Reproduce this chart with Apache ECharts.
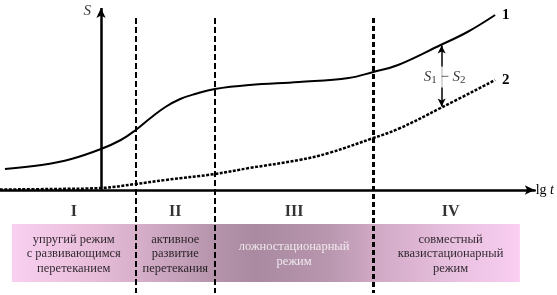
<!DOCTYPE html>
<html>
<head>
<meta charset="utf-8">
<script src="https://cdn.jsdelivr.net/npm/echarts@6/dist/echarts.min.js"></script>
<style>html,body{margin:0;padding:0;background:#fff;}#c{width:557px;height:295px;}</style>
</head>
<body>
<div id="c"></div>
<script>
// curve 1 (solid) : lg t -> S
const lgT1 = [-0.97, -0.6, -0.3, 0, 0.2, 0.35, 0.5, 0.65, 0.8, 0.95, 1.15, 1.5, 2.0, 2.5, 2.75, 3.0, 3.43, 3.7, 3.98];
const S1   = [2.1, 2.5, 3.1, 4.1, 5.0, 6.0, 7.2, 8.3, 9.1, 9.6, 10.1, 10.5, 10.8, 11.2, 11.8, 12.5, 14.5, 15.8, 17.5];
// curve 2 (dotted)
const lgT2 = [-1.02, -0.5, 0, 0.35, 0.65, 1.15, 1.5, 2.0, 2.3, 2.75, 3.0, 3.43, 3.98];
const S2   = [0.05, 0.1, 0.2, 0.6, 1.0, 1.6, 2.2, 3.0, 3.7, 5.2, 6.1, 8.2, 11.0];
// stage boundaries (lg t)
const stageBounds = [0.35, 1.15, 2.75];
const stageNumerals = ['I', 'II', 'III', 'IV'];
const stageNames = [
  'упругий режим\nс развивающимся\nперетеканием',
  'активное\nразвитие\nперетекания',
  'ложностационарный\nрежим',
  'совместный\nквазистационарный\nрежим'
];
const curveNames = ['1', '2'];
// position of S1 - S2 marker
const diffAt = 3.44;

const X_MIN = -1.02, X_MAX = 4.38, Y_MIN = -10.3, Y_MAX = 18.2;
const BAND_L = -0.90, BAND_R = 4.23, BAND_T = -3.4, BAND_B = -9.2;
const LABEL_R = 4.31;

const chart = echarts.init(document.getElementById('c'), null, {renderer: 'canvas'});
const serif = '"Liberation Serif", "Times New Roman", serif';

function interp(xs, ys, x) {
  for (let i = 0; i < xs.length - 1; i++) {
    if (x >= xs[i] && x <= xs[i + 1]) {
      const t = (x - xs[i]) / (xs[i + 1] - xs[i]);
      return ys[i] + t * (ys[i + 1] - ys[i]);
    }
  }
  return ys[ys.length - 1];
}

const edges = [BAND_L, ...stageBounds, LABEL_R];
const labelData = [];
stageNumerals.forEach((n, i) => {
  const cx = (edges[i] + edges[i + 1]) / 2;
  labelData.push({
    value: [cx, -2.2],
    label: {formatter: n, fontFamily: serif, fontWeight: 'bold', fontSize: 16, color: '#000'}
  });
  labelData.push({
    value: [cx, -6.4],
    label: {formatter: stageNames[i], fontFamily: serif, fontSize: 12.5, lineHeight: 14.5,
            color: i === 2 ? '#fff' : '#000', align: 'center'}
  });
});
labelData.push({
  value: [-0.14, 17.9],
  label: {formatter: 'S', fontFamily: serif, fontStyle: 'italic', fontSize: 15, color: '#000'}
});
const diffTop = interp(lgT1, S1, diffAt) - 0.1;
const diffBot = interp(lgT2, S2, diffAt) + 0.1;
labelData.push({
  value: [diffAt + 0.03, (diffTop + diffBot) / 2 - 0.1],
  label: {
    formatter: '{i|S}{s|1}{m| − }{i|S}{s|2}',
    backgroundColor: '#fff', padding: [2, 1, 2, 1],
    rich: {
      i: {fontFamily: serif, fontStyle: 'italic', fontSize: 15, color: '#000'},
      s: {fontFamily: serif, fontSize: 11, color: '#000', padding: [6, 0, 0, 0]},
      m: {fontFamily: serif, fontSize: 15, color: '#000'}
    }
  }
});

const dashedLines = stageBounds.map((x, i) => [
  {coord: [x, 17.2], lineStyle: {type: i === 2 ? [5, 3] : [6, 3], width: i === 2 ? 3 : 2, color: '#000'}},
  {coord: [x, Y_MIN]}
]);

const option = {
  animation: false,
  grid: {left: 0, right: 17, top: 8, bottom: 2},
  xAxis: {
    type: 'value', min: X_MIN, max: X_MAX,
    axisLine: {show: true, onZero: true, symbol: ['none', 'arrow'], symbolSize: [7, 10],
               lineStyle: {color: '#000', width: 2.5}},
    axisTick: {show: false}, axisLabel: {show: false}, splitLine: {show: false},
    name: '{a|lg }{b|t}', nameLocation: 'end', nameGap: 1,
    nameTextStyle: {rich: {
      a: {fontFamily: serif, fontSize: 14, color: '#000'},
      b: {fontFamily: serif, fontStyle: 'italic', fontSize: 14, color: '#000'}
    }}
  },
  yAxis: {
    type: 'value', min: Y_MIN, max: Y_MAX,
    axisLine: {show: false, onZero: true}, axisTick: {show: false}, axisLabel: {show: false},
    splitLine: {show: false}
  },
  series: [
    {
      type: 'line', data: [], z: 1, silent: true,
      markArea: {
        silent: true,
        itemStyle: {
          opacity: 1,
          color: {type: 'linear', x: 0, y: 0, x2: 1, y2: 0, colorStops: [
            {offset: 0, color: '#f9d0f0'},
            {offset: 0.17, color: '#e6bcd8'},
            {offset: 0.24, color: '#d8b0cc'},
            {offset: 0.40, color: '#b594ab'},
            {offset: 0.48, color: '#a98aa0'},
            {offset: 0.62, color: '#b896ae'},
            {offset: 0.71, color: '#cfa8c4'},
            {offset: 0.85, color: '#e6bedd'},
            {offset: 1, color: '#f9cef1'}
          ]}
        },
        data: [[{coord: [BAND_L, BAND_T]}, {coord: [BAND_R, BAND_B]}]]
      }
    },
    {
      name: curveNames[1], type: 'line', z: 3, silent: true,
      data: lgT2.map((x, i) => [x, S2[i]]),
      showSymbol: false, smooth: 0.4,
      lineStyle: {color: '#000', width: 2.5, type: [3, 1.5]},
      endLabel: {show: true, formatter: curveNames[1], distance: 7, fontFamily: serif,
                 fontWeight: 'bold', fontSize: 15, color: '#000'}
    },
    {
      name: curveNames[0], type: 'line', z: 4, silent: true,
      data: lgT1.map((x, i) => [x, S1[i]]),
      showSymbol: false, smooth: 0.4,
      lineStyle: {color: '#000', width: 2},
      endLabel: {show: true, formatter: curveNames[0], distance: 7, fontFamily: serif,
                 fontWeight: 'bold', fontSize: 15, color: '#000'},
      markLine: {
        silent: true, symbol: ['none', 'none'], label: {show: false},
        lineStyle: {color: '#000'},
        data: [
          ...dashedLines,
          [
            {coord: [0, 0], symbol: 'none', lineStyle: {type: 'solid', width: 2.5, color: '#000'}},
            {coord: [0, Y_MAX], symbol: 'arrow', symbolSize: [7, 10]}
          ],
          [
            {coord: [diffAt, diffTop], symbol: 'arrow', symbolSize: [6, 8], lineStyle: {type: 'solid', width: 1.5, color: '#000'}},
            {coord: [diffAt, diffBot], symbol: 'arrow', symbolSize: [6, 8]}
          ]
        ]
      }
    },
    {
      type: 'scatter', z: 10, silent: true, symbolSize: 0,
      data: labelData,
      label: {show: true, position: 'inside'}
    }
  ]
};
chart.setOption(option);
</script>
</body>
</html>
